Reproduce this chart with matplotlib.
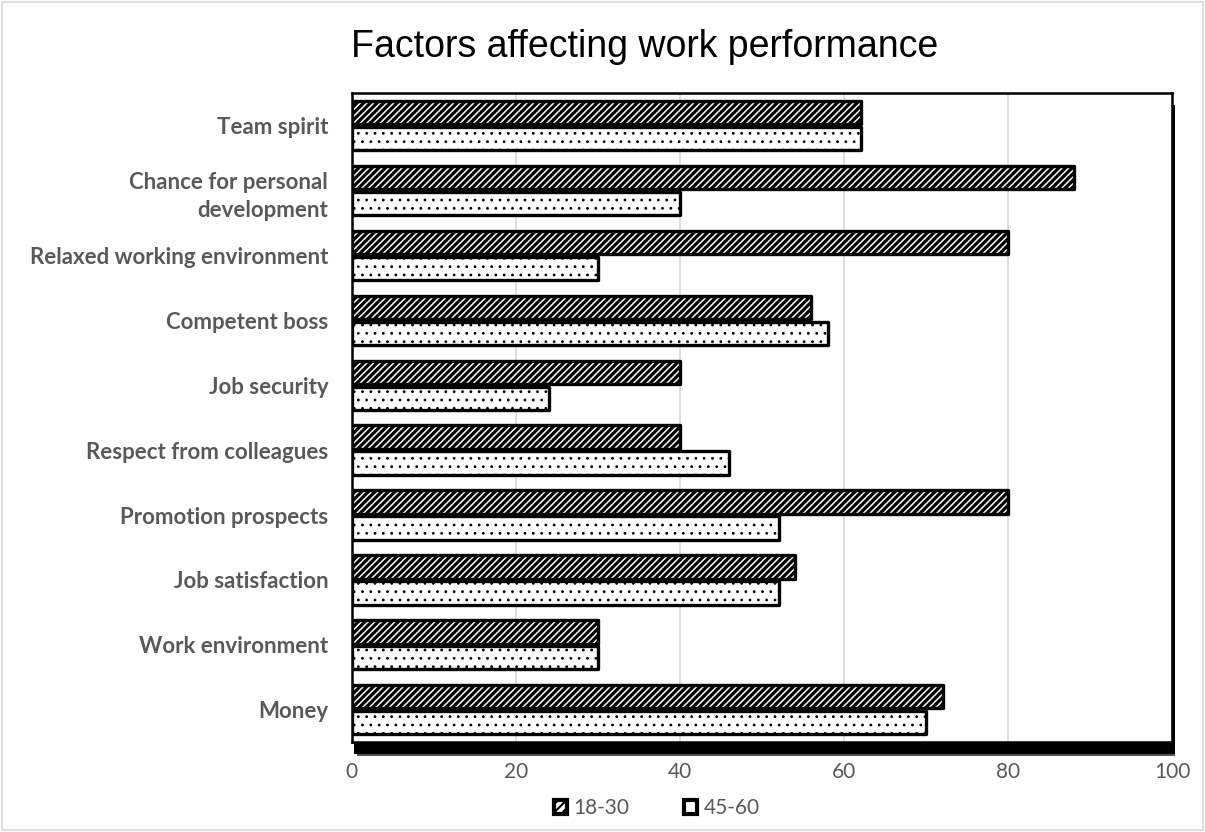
import matplotlib
matplotlib.use("Agg")
import matplotlib.pyplot as plt
from matplotlib.patches import Rectangle, Patch
import numpy as np

categories = ["Team spirit", "Chance for personal\ndevelopment", "Relaxed working environment",
              "Competent boss", "Job security", "Respect from colleagues",
              "Promotion prospects", "Job satisfaction", "Work environment", "Money"]
young = [62, 88, 80, 56, 40, 40, 80, 54, 30, 72]   # 18-30
older = [62, 40, 30, 58, 24, 46, 52, 52, 30, 70]   # 45-60
series_labels = ["18-30", "45-60"]
x_ticks = [0, 20, 40, 60, 80, 100]

GRAY = "#595959"
STRIPES = "/////"
DOTS = ".."

fig = plt.figure(figsize=(12.05, 8.32), dpi=100)
ax = fig.add_axes([0.292, 0.108, 0.681, 0.780])
ax.set_zorder(2)

# drop shadow under the plot area (mostly along the bottom)
fig.patches.append(Rectangle((0.294, 0.094), 0.681, 0.780, transform=fig.transFigure,
                             facecolor="black", edgecolor="none", zorder=-1))
fig.patches.append(Rectangle((0.296, 0.091), 0.679, 0.780, transform=fig.transFigure,
                             facecolor="#555555", edgecolor="none", zorder=-1.5))
# light border around the whole figure
fig.patches.append(Rectangle((0.002, 0.002), 0.996, 0.996, transform=fig.transFigure,
                             facecolor="none", edgecolor="#d9d9d9", linewidth=1.2, zorder=-2))

y = np.arange(len(categories))
h = 0.36
plt.rcParams['hatch.linewidth'] = 2.3
bars1 = ax.barh(y - 0.2, young, height=h, facecolor="white", edgecolor="black",
                hatch=STRIPES, linewidth=2.4, zorder=3)
plt.rcParams['hatch.linewidth'] = 0.8
bars2 = ax.barh(y + 0.2, older, height=h, facecolor="white", edgecolor="black",
                hatch=DOTS, linewidth=2.4, zorder=3)
for b in list(bars1) + list(bars2):
    b.set_joinstyle("round")

ax.set_xlim(0, 100)
ax.set_ylim(len(categories) - 0.5, -0.5)
ax.set_xticks(x_ticks)
ax.set_xticklabels([str(t) for t in x_ticks], fontsize=15, color=GRAY, family="Lato")
ax.set_yticks(y)
ax.set_yticklabels(categories, fontsize=16, color=GRAY, family="Lato",
                   fontweight="bold", linespacing=1.45)
ax.tick_params(length=0, pad=17, axis="y")
ax.tick_params(length=0, pad=14, axis="x")
ax.xaxis.grid(True, color="#d9d9d9", linewidth=1.2, zorder=0)
ax.set_axisbelow(True)
for s in ax.spines.values():
    s.set_linewidth(1.8)
    s.set_color("black")
ax.set_facecolor("white")

fig.text(0.535, 0.944, "Factors affecting work performance", ha="center", va="center",
         fontsize=27, family="Liberation Sans", color="black")

plt.rcParams['hatch.linewidth'] = 1.5
handles = [Patch(facecolor="white", edgecolor="black", hatch="////", linewidth=3),
           Patch(facecolor="white", edgecolor="black", hatch=".", linewidth=3)]
fig.legend(handles, series_labels, loc="center", bbox_to_anchor=(0.545, 0.029), ncol=2,
           frameon=False, prop={"family": "Lato", "size": 15}, labelcolor=GRAY,
           handlelength=0.65, handleheight=0.65, handletextpad=0.3, columnspacing=2.6)

fig.savefig("out.png", dpi=100, facecolor="white")
